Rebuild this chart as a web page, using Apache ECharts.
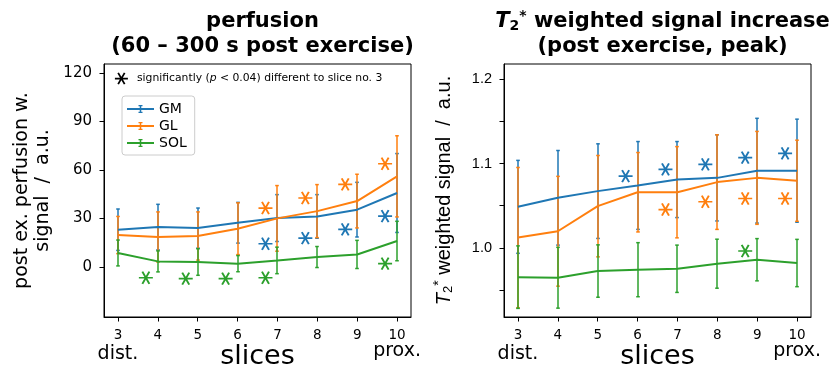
<!DOCTYPE html>
<html>
<head>
<meta charset="utf-8">
<script src="https://cdn.jsdelivr.net/npm/echarts@6/dist/echarts.min.js"></script>
<style>html,body{margin:0;padding:0;background:#fff;}#c{width:829px;height:370px;}</style>
</head>
<body>
<div id="c"></div>
<script>
// ---------- data ----------
const slices = [3, 4, 5, 6, 7, 8, 9, 10];
const endLabels = ['dist.', 'prox.'];
const perfTicks = [0, 30, 60, 90, 120];
const t2Ticks = [0.95, 1.0, 1.05, 1.1, 1.15, 1.2];
const t2Labels = [1.0, 1.1, 1.2];

const perfGM = [23.1, 24.7, 24.1, 27.4, 30.3, 31.3, 35.5, 45.8];
const perfGMErr = [12.8, 14.1, 12.4, 12.6, 14.5, 13.5, 16.9, 24.4];
const perfGL = [19.8, 18.6, 19.2, 23.7, 30.1, 34.6, 40.8, 56.1];
const perfGLErr = [11.5, 15.5, 14.9, 16.0, 20.3, 16.4, 16.6, 25.1];
const perfSOL = [8.7, 3.5, 3.1, 2.1, 4.1, 6.2, 7.8, 16.1];
const perfSOLErr = [8.0, 6.5, 8.2, 5.0, 8.2, 6.5, 8.7, 12.2];

const perfSigGMSlices = [7, 8, 9, 10];
const perfSigGM = [14.4, 17.9, 23.3, 31.5];
const perfSigGLSlices = [7, 8, 9, 10];
const perfSigGL = [36.5, 42.7, 51.1, 63.9];
const perfSigSOLSlices = [4, 5, 6, 7, 10];
const perfSigSOL = [-6.6, -7.2, -7.2, -6.6, 2.1];

const t2GM = [1.0487, 1.0594, 1.0673, 1.074, 1.081, 1.083, 1.0915, 1.0915];
const t2GMErr = [0.055, 0.056, 0.056, 0.052, 0.045, 0.051, 0.062, 0.061];
const t2GL = [1.0123, 1.0198, 1.0495, 1.066, 1.066, 1.078, 1.083, 1.0796];
const t2GLErr = [0.083, 0.065, 0.060, 0.047, 0.054, 0.056, 0.055, 0.048];
const t2SOL = [0.9655, 0.9648, 0.9727, 0.9743, 0.9754, 0.9814, 0.9861, 0.9822];
const t2SOLErr = [0.037, 0.036, 0.031, 0.032, 0.028, 0.029, 0.025, 0.028];

const t2SigGMSlices = [6, 7, 8, 9, 10];
const t2SigGM = [1.085, 1.093, 1.099, 1.107, 1.112];
const t2SigGLSlices = [7, 8, 9, 10];
const t2SigGL = [1.0455, 1.0547, 1.0586, 1.0586];
const t2SigSOLSlices = [9];
const t2SigSOL = [0.9964];

const seriesNames = ['GM', 'GL', 'SOL'];
const sigText = 'significantly (p < 0.04) different to slice no. 3';

// ---------- style ----------
const colors = ['#1f77b4', '#ff7f0e', '#2ca02c'];
const FONT = 'DejaVu Sans';
const FONT2 = 'Liberation Sans';
const starOffset = -0.3;
const starPath = 'path://M0,50H100M25,6.7L75,93.3M25,93.3L75,6.7';
const ebIcon = 'path://M0,3H27V5H0ZM12.75,0H14.25V8H12.75ZM11.5,0H15.5V1.2H11.5ZM11.5,6.8H15.5V8H11.5Z';

function lineSeries(name, means, gi, color) {
  return {
    type: 'line', name: name, xAxisIndex: gi, yAxisIndex: gi,
    data: slices.map((s, i) => [s, means[i]]),
    showSymbol: false, symbol: 'none',
    lineStyle: { color: color, width: 2 }, itemStyle: { color: color },
    z: 3, silent: true
  };
}
function errSeries(name, means, errs, gi, color) {
  return {
    type: 'custom', name: name + ' err', xAxisIndex: gi, yAxisIndex: gi,
    data: slices.map((s, i) => [s, means[i] - errs[i], means[i] + errs[i]]),
    encode: { x: 0, y: [1, 2] },
    itemStyle: { color: color, opacity: 1 },
    z: 3, silent: true,
    renderItem: function (params, api) {
      const x = api.value(0);
      const lo = api.coord([x, api.value(1)]);
      const hi = api.coord([x, api.value(2)]);
      const cx = Math.round(lo[0]);
      const cw = 1.8;
      const mk = () => ({ stroke: color, lineWidth: 1.5, opacity: 1, fill: null });
      return {
        type: 'group', children: [
          { type: 'line', shape: { x1: cx, y1: lo[1], x2: cx, y2: hi[1] }, style: mk() },
          { type: 'line', shape: { x1: cx - cw, y1: lo[1], x2: cx + cw, y2: lo[1] }, style: mk() },
          { type: 'line', shape: { x1: cx - cw, y1: hi[1], x2: cx + cw, y2: hi[1] }, style: mk() }
        ]
      };
    }
  };
}
function starSeries(sl, vals, gi, color) {
  return {
    type: 'scatter', name: 'sig', xAxisIndex: gi, yAxisIndex: gi,
    data: sl.map((s, i) => [s + starOffset, vals[i]]),
    symbol: starPath, symbolSize: [14, 12.1],
    itemStyle: { color: 'rgba(0,0,0,0)', borderColor: color, borderWidth: 1.8, opacity: 1 },
    z: 4, silent: true
  };
}

function xAxis(gi) {
  return {
    type: 'value', gridIndex: gi, min: 2.65, max: 10.35,
    axisLine: { show: true, onZero: false, lineStyle: { color: '#000', width: 1 } },
    axisTick: { show: true, length: 4.5, customValues: slices, lineStyle: { color: '#000', width: 1 } },
    axisLabel: {
      customValues: slices, margin: 11, color: '#000',
      formatter: function (v) {
        if (v === slices[0]) return '{n|' + v + '}\n{d|' + endLabels[0] + '}';
        if (v === slices[slices.length - 1]) return '{n|' + v + '}\n{p|' + endLabels[1] + '}';
        return '{n|' + v + '}';
      },
      rich: {
        n: { fontSize: 13.5, fontFamily: FONT, color: '#000', lineHeight: 15 },
        d: { fontSize: 19, fontFamily: FONT, color: '#000', lineHeight: 22 },
        p: { fontSize: 19, fontFamily: FONT, color: '#000', lineHeight: 16 }
      }
    },
    splitLine: { show: false },
    name: 'slices', nameLocation: 'middle', nameGap: 26, nameMoveOverlap: false,
    nameTextStyle: { fontSize: 27, fontFamily: FONT, color: '#000' }
  };
}

const option = {
  animation: false,
  backgroundColor: '#fff',
  title: [
    {
      text: 'perfusion\n(60 – 300 s post exercise)',
      left: 257.5, top: 4, textAlign: 'center',
      textStyle: { fontSize: 21, fontWeight: 'bold', fontFamily: FONT, color: '#000', lineHeight: 25 }
    },
    {
      text: '{i|T}{s|2}{u|*}{b| weighted signal increase}\n{b|(post exercise, peak)}',
      left: 657.5, top: 4, textAlign: 'center',
      textStyle: {
        fontSize: 21, fontWeight: 'bold', fontFamily: FONT, color: '#000', lineHeight: 25,
        rich: {
          i: { fontSize: 21, fontWeight: 'bold', fontStyle: 'italic', fontFamily: FONT, color: '#000', lineHeight: 25, verticalAlign: 'middle' },
          s: { fontSize: 14, fontWeight: 'bold', fontFamily: FONT, color: '#000', lineHeight: 14, verticalAlign: 'bottom', padding: [0, 0, 1, 0] },
          u: { fontSize: 14, fontWeight: 'bold', fontFamily: FONT, color: '#000', lineHeight: 14, verticalAlign: 'top' },
          b: { fontSize: 21, fontWeight: 'bold', fontFamily: FONT, color: '#000', lineHeight: 25, verticalAlign: 'middle' }
        }
      }
    }
  ],
  legend: [
    {
      data: seriesNames.map(n => ({ name: n, icon: ebIcon })),
      orient: 'vertical', left: 122, top: 96,
      itemWidth: 27, itemHeight: 8, itemGap: 3,
      padding: [6, 8, 5, 5],
      borderColor: '#cccccc', borderWidth: 1, borderRadius: 3,
      backgroundColor: 'rgba(255,255,255,0.8)',
      selectedMode: false,
      textStyle: { fontSize: 14, fontFamily: FONT, color: '#000' }
    },
    {
      data: [{ name: 'sig', icon: starPath, itemStyle: { color: 'rgba(0,0,0,0)', borderColor: '#000', borderWidth: 1.8 } }],
      left: 109, top: 67, padding: 5,
      itemWidth: 13, itemHeight: 11.3,
      selectedMode: false,
      formatter: function () {
        const idx = sigText.indexOf('(p') + 1;
        return '{a|' + sigText.slice(0, idx) + '}{i|p}{a|' + sigText.slice(idx + 1) + '}';
      },
      textStyle: {
        padding: [0, 0, 0, 4],
        rich: {
          a: { fontSize: 10.8, fontFamily: FONT, color: '#000' },
          i: { fontSize: 10.8, fontFamily: FONT, fontStyle: 'italic', color: '#000' }
        }
      }
    }
  ],
  grid: [
    { left: 104, top: 64, width: 307, height: 253, show: true, borderColor: '#000', borderWidth: 1, outerBoundsMode: 'none', containLabel: false },
    { left: 504, top: 64, width: 307, height: 253, show: true, borderColor: '#000', borderWidth: 1, outerBoundsMode: 'none', containLabel: false }
  ],
  xAxis: [xAxis(0), xAxis(1)],
  yAxis: [
    {
      type: 'value', gridIndex: 0, min: -30.9, max: 125.6,
      axisLine: { show: true, lineStyle: { color: '#000', width: 1 } },
      axisTick: { show: true, length: 4.5, customValues: perfTicks, lineStyle: { color: '#000', width: 1 } },
      axisLabel: { customValues: perfTicks, margin: 12, fontSize: 15, fontFamily: FONT, color: '#000' },
      splitLine: { show: false },
      name: 'post ex. perfusion w.\nsignal  /  a.u.', nameLocation: 'middle', nameGap: 50, nameRotate: 90,
      nameTextStyle: { fontSize: 19, lineHeight: 21, fontFamily: FONT, color: '#000' }
    },
    {
      type: 'value', gridIndex: 1, min: 0.9183, max: 1.2178,
      axisLine: { show: true, lineStyle: { color: '#000', width: 1 } },
      axisTick: { show: true, length: 4.5, customValues: t2Ticks, lineStyle: { color: '#000', width: 1 } },
      axisLabel: { customValues: t2Labels, margin: 12, fontSize: 14.5, fontFamily: FONT2, color: '#000', formatter: v => v.toFixed(1) },
      splitLine: { show: false },
      name: '{t|T}{s|2}{u|*}{n| weighted signal  /  a.u.}', nameLocation: 'middle', nameGap: 48, nameRotate: 90,
      nameTextStyle: {
        fontSize: 20, fontFamily: FONT2, color: '#000',
        rich: {
          t: { fontSize: 20, fontStyle: 'italic', fontFamily: FONT2, color: '#000', lineHeight: 24, verticalAlign: 'middle' },
          s: { fontSize: 13, fontFamily: FONT2, color: '#000', lineHeight: 13, verticalAlign: 'bottom', padding: [0, 0, 1, 0] },
          u: { fontSize: 14, fontFamily: FONT2, color: '#000', lineHeight: 14, verticalAlign: 'top' },
          n: { fontSize: 20, fontFamily: FONT2, color: '#000', lineHeight: 24, verticalAlign: 'middle' }
        }
      }
    }
  ],
  series: [
    lineSeries('GM', perfGM, 0, colors[0]), errSeries('GM', perfGM, perfGMErr, 0, colors[0]),
    lineSeries('GL', perfGL, 0, colors[1]), errSeries('GL', perfGL, perfGLErr, 0, colors[1]),
    lineSeries('SOL', perfSOL, 0, colors[2]), errSeries('SOL', perfSOL, perfSOLErr, 0, colors[2]),
    starSeries(perfSigGMSlices, perfSigGM, 0, colors[0]),
    starSeries(perfSigGLSlices, perfSigGL, 0, colors[1]),
    starSeries(perfSigSOLSlices, perfSigSOL, 0, colors[2]),
    lineSeries('GM', t2GM, 1, colors[0]), errSeries('GM', t2GM, t2GMErr, 1, colors[0]),
    lineSeries('GL', t2GL, 1, colors[1]), errSeries('GL', t2GL, t2GLErr, 1, colors[1]),
    lineSeries('SOL', t2SOL, 1, colors[2]), errSeries('SOL', t2SOL, t2SOLErr, 1, colors[2]),
    starSeries(t2SigGMSlices, t2SigGM, 1, colors[0]),
    starSeries(t2SigGLSlices, t2SigGL, 1, colors[1]),
    starSeries(t2SigSOLSlices, t2SigSOL, 1, colors[2])
  ]
};

const chart = echarts.init(document.getElementById('c'), null, { renderer: 'canvas' });
chart.setOption(option);
</script>
</body>
</html>
